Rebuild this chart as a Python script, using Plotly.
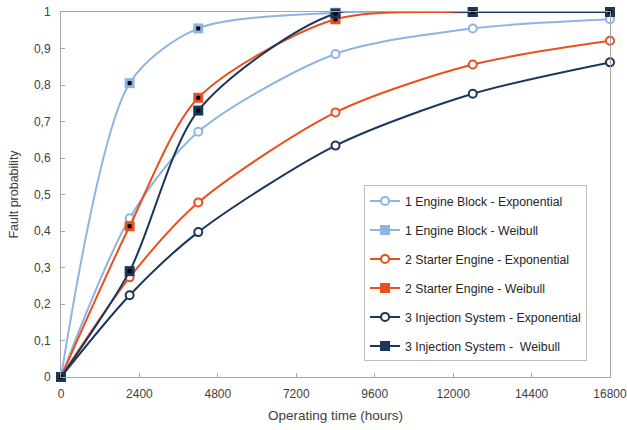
import plotly.graph_objects as go

hours = [0, 2100, 4200, 8400, 12600, 16800]

engine_block_exp = [0, 0.435, 0.672, 0.885, 0.955, 0.980]
engine_block_weib = [0, 0.805, 0.955, 0.998, 1.0, 1.0]
starter_exp = [0, 0.273, 0.478, 0.725, 0.856, 0.921]
starter_weib = [0, 0.413, 0.765, 0.980, 1.0, 1.0]
injection_exp = [0, 0.224, 0.397, 0.634, 0.776, 0.862]
injection_weib = [0, 0.290, 0.730, 0.996, 1.0, 1.0]

names = [
    "1 Engine Block - Exponential",
    "1 Engine Block - Weibull",
    "2 Starter Engine - Exponential",
    "2 Starter Engine - Weibull",
    "3 Injection System - Exponential",
    "3 Injection System -  Weibull",
]

x_ticks = [0, 2400, 4800, 7200, 9600, 12000, 14400, 16800]
x_ticklabels = ["0", "2400", "4800", "7200", "9600", "12000", "14400", "16800"]
y_ticks = [0, 0.1, 0.2, 0.3, 0.4, 0.5, 0.6, 0.7, 0.8, 0.9, 1.0]
y_ticklabels = ["0", "0,1", "0,2", "0,3", "0,4", "0,5", "0,6", "0,7", "0,8", "0,9", "1"]

LIGHT = "#8db4e2"
ORANGE = "#e8501e"
NAVY = "#1b365d"

series = [
    (names[0], engine_block_exp, LIGHT, "exp"),
    (names[1], engine_block_weib, LIGHT, "weib"),
    (names[2], starter_exp, ORANGE, "exp"),
    (names[3], starter_weib, ORANGE, "weib"),
    (names[4], injection_exp, NAVY, "exp"),
    (names[5], injection_weib, NAVY, "weib"),
]

fig = go.Figure()
for i, (name, vals, col, kind) in enumerate(series):
    if kind == "exp":
        marker = dict(symbol="circle", size=8, color="white", line=dict(color=col, width=2))
    else:
        marker = dict(symbol="square", size=10, color=col, line=dict(color=col, width=0))
    fig.add_trace(go.Scatter(
        x=hours, y=vals, name=name, mode="lines+markers",
        line=dict(color=col, width=2, shape="spline", smoothing=0.8),
        marker=marker, cliponaxis=False, legendgroup=f"g{i}",
    ))
    if kind == "weib":
        fig.add_trace(go.Scatter(
            x=hours, y=vals, mode="markers", showlegend=False, legendgroup=f"g{i}",
            marker=dict(symbol="square", size=4, color="black"),
            cliponaxis=False, hoverinfo="skip",
        ))

FAM = "Liberation Sans, Arial, sans-serif"
tick_font = dict(family=FAM, size=12, color="#404040")

fig.update_layout(
    width=627, height=430,
    margin=dict(l=61, r=17, t=12, b=53, autoexpand=False),
    paper_bgcolor="white", plot_bgcolor="white",
    font=tick_font,
    xaxis=dict(
        range=[0, 16800], tickvals=x_ticks, ticktext=x_ticklabels, automargin=False,
        showgrid=False, zeroline=False, showline=True, linecolor="#a6a6a6", linewidth=1,
        mirror=True, ticks="inside", ticklen=4, tickcolor="#a6a6a6", ticklabelstandoff=6,
        ticklabeloverflow="allow",
        title=dict(text="Operating time (hours)", font=dict(family=FAM, size=13.5, color="#404040"), standoff=10),
        tickfont=tick_font,
    ),
    yaxis=dict(
        range=[0, 1], tickvals=y_ticks, ticktext=y_ticklabels, automargin=False,
        showgrid=False, zeroline=False, showline=True, linecolor="#a6a6a6", linewidth=1,
        mirror=True, ticks="inside", ticklen=4, tickcolor="#a6a6a6", ticklabelstandoff=7,
        ticklabeloverflow="allow",
        title=dict(text="Fault probability", font=dict(family=FAM, size=12.5, color="#404040"), standoff=12),
        tickfont=tick_font,
    ),
    legend=dict(
        x=0.552, y=0.525, xanchor="left", yanchor="top",
        bgcolor="white", bordercolor="#bfbfbf", borderwidth=1,
        font=dict(family=FAM, size=12.3, color="#262626"),
        tracegroupgap=10, itemwidth=30,
    ),
)

fig.write_html(
    "out.html",
    config={"displayModeBar": False},
    post_script="document.body.style.margin='0';document.body.style.overflow='hidden';",
)
